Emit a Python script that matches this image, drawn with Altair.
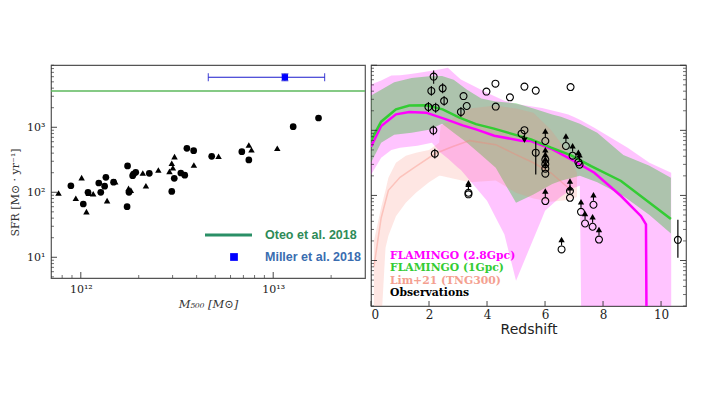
import altair as alt
import pandas as pd

# ---------------- Left panel: SFR vs M500 ----------------
tri_mass = [7.66e11, 1.01e12, 9.42e11, 1.07e12, 1.10e12, 1.16e12, 1.37e12, 1.51e12, 1.77e12, 1.82e12,
            2.10e12, 2.18e12, 2.53e12, 2.89e12, 2.97e12, 3.01e12, 3.07e12, 3.87e12, 5.2e12, 7.47e12,
            7.71e12, 1.05e13]
tri_sfr = [97.5, 168, 81, 50.4, 96.5, 95, 74.3, 146, 115, 108,
           198, 126, 220, 210, 279, 239, 353, 263, 358, 535,
           452, 475]
circ_mass = [8.88e11, 1.03e12, 1.09e12, 1.24e12, 1.27e12, 1.33e12, 1.35e12, 1.48e12, 1.75e12, 1.74e12,
             1.78e12, 1.88e12, 1.86e12, 1.93e12, 2.27e12, 2.97e12, 3.06e12, 3.31e12, 3.47e12, 3.56e12,
             3.86e12, 4.79e12, 6.87e12, 7.47e12, 1.27e13, 1.72e13]
circ_sfr = [126, 66, 100, 139, 100, 124, 170, 143, 254, 60,
            100, 191, 180, 203, 196, 103, 164, 198, 183, 475,
            437, 358, 421, 314, 1021, 1390]
oteo_sfr = [3610]
miller_mass = [1.15e13]
miller_sfr = [5880]
miller_mass_lo = [4.6e12]
miller_mass_hi = [1.85e13]
miller_sfr_lo = [5200]
miller_sfr_hi = [6650]

left_x_major = [1e12, 1e13]
left_x_minor = [8e11, 9e11, 2e12, 3e12, 4e12, 5e12, 6e12, 7e12, 8e12, 9e12, 2e13]
left_y_major = [10, 100, 1000]
left_y_minor = [5, 6, 7, 8, 9, 20, 30, 40, 50, 60, 70, 80, 90, 200, 300, 400, 500, 600, 700,
                800, 900, 2000, 3000, 4000, 5000, 6000, 7000, 8000, 9000]

# ---------------- Right panel: SFR vs redshift ----------------
pink_z = [0, 0.35, 0.7, 1.0, 1.3, 1.6, 2.1, 2.4, 2.65, 3.0, 3.1, 4.0, 4.6, 5.0, 5.9, 6.0, 6.5, 6.8, 7.0,
          7.2, 7.25, 7.7, 8.85, 9.6, 10.35]
pink_up = [5050, 5820, 6950, 7050, 7280, 7600, 8250, 8700, 9200, 6600, 6030, 3800, 2860, 2550, 2200, 2150,
           1900, 1760, 1600, 1450, 1420, 1100, 542, 318, 223]
pink_lo = [208, 380, 500, 542, 560, 582, 646, 454, 370, 267, 245, 83, 25, 4.9, 45, 58, 92, 115, 131,
           141, 1, 1, 1, 1, 1]

green_z = [0, 0.35, 0.8, 1.4, 2.0, 2.45, 2.85, 3.3, 3.8, 4.3, 5.0, 5.6, 6.25, 6.55, 7.2, 7.8, 8.7, 9.6, 10.34]
green_up = [3420, 4200, 5500, 6400, 6800, 6820, 6000, 4250, 3080, 2770, 2600, 2160, 1760, 1620, 1268, 922,
            420, 286, 187]
green_lo = [318, 646, 859, 922, 1025, 1268, 922, 650, 420, 267, 77, 103, 150, 168, 200, 160, 98, 50, 26]

salmon_z = [0.1, 0.35, 0.5, 0.6, 0.86, 1.2, 1.55, 2.0, 2.35, 2.4, 3.4, 4.3, 5.0, 5.6, 6.2, 6.8, 7.1]
salmon_up = [20, 65, 120, 187, 318, 408, 454, 500, 646, 1181, 2160, 2400, 2160, 1871, 1025, 454, 223]
salmon_lo = [1, 1, 15.6, 24, 48, 77, 110, 160, 200, 200, 160, 170, 110, 90, 80, 85, 95]

salmon_line_z = [0.1, 0.35, 0.6, 1.0, 1.5, 2.2, 2.8, 3.4, 4.3, 5.0, 5.6, 6.2, 6.8]
salmon_line_v = [8, 45, 120, 190, 270, 437, 560, 695, 603, 423, 318, 223, 131]

mag_z = [0, 0.35, 0.86, 1.32, 1.9, 2.59, 3.16, 3.62, 4.25, 5.17, 5.52, 6.21, 6.9, 7.7, 8.62, 9.31, 9.48, 9.5]
mag_v = [561, 1169, 1762, 1920, 1871, 1476, 1194, 1036, 828, 695, 687, 522, 358, 223, 98, 48, 36, 1]

grn_z = [0, 0.35, 0.86, 1.32, 1.9, 2.47, 3.05, 3.62, 4.24, 5.52, 6.21, 6.9, 7.59, 8.62, 10.34]
grn_v = [695, 1360, 2100, 2400, 2425, 2100, 1566, 1245, 1062, 727, 542, 412, 283, 167, 43.3]

# observations: circles with small error bars
phi_z = [2.16, 2.08, 2.47, 2.52, 1.98, 2.23, 2.15, 2.20, 3.10]
phi_v = [6700, 4040, 4430, 2830, 2290, 2230, 1000, 438, 1920]
phi_lo = [5220, 3400, 3720, 2380, 1920, 1870, 840, 368, 1610]
phi_hi = [8300, 4800, 5280, 3370, 2730, 2660, 1190, 522, 2290]
# plain circles
plain_z = [3.19, 3.30, 3.98, 4.29, 4.30, 4.79, 5.29, 5.68, 6.88, 5.19]
plain_v = [3360, 2370, 3940, 5220, 2320, 3220, 4700, 4080, 4630, 890]
# upper limit
upper_z = [5.29]
upper_v = [1007]
# big error bars
big_z = [5.68, 10.58]
big_v = [454, 20.8]
big_lo = [210, 11.0]
big_hi = [687, 42.3]
# lower limits
lim_z = [3.36, 3.36, 6.01, 6.01, 6.01, 6.01, 6.01, 6.01, 6.72, 6.95, 7.15, 7.19, 6.86, 6.86, 7.24,
         7.67, 7.38, 7.64, 7.86, 6.57]
lim_v = [110, 104, 687, 354, 302, 258, 216, 82, 575, 408, 324, 297, 117, 92, 56,
         72, 37, 33, 21, 14.8]

right_x_major = [0, 2, 4, 6, 8, 10]
right_y_major = [10, 100, 1000, 10000]
right_y_minor = [2, 3, 4, 5, 6, 7, 8, 9, 20, 30, 40, 50, 60, 70, 80, 90, 200, 300, 400, 500,
                 600, 700, 800, 900, 2000, 3000, 4000, 5000, 6000, 7000, 8000, 9000]

legend_labels = ["FLAMINGO (2.8Gpc)", "FLAMINGO (1Gpc)", "Lim+21 (TNG300)", "Observations"]
legend_colors = ["#ff00ff", "#33cc33", "#f4a090", "#000000"]

SERIF = "DejaVu Serif"
TICK = "#333333"

# ================= build left =================
LW, LH = 314, 213
lxs = alt.Scale(type="log", domain=[7.0e11, 3.0e13], nice=False)
lys = alt.Scale(type="log", domain=[4.8, 9080], nice=False)

lx_axis = alt.Axis(values=left_x_major, labelExpr="datum.value == 1e12 ? '10¹²' : '10¹³'",
                   ticks=False, domain=False, grid=False,
                   labelFont=SERIF, labelFontSize=11, labelColor="#222", labelPadding=5,
                   title="M₅₀₀ [M⊙]", titleFont=SERIF, titleFontStyle="italic", titleFontWeight="normal",
                   titleFontSize=11.5, titleColor="#333", titlePadding=4)
ly_axis = alt.Axis(values=left_y_major,
                   labelExpr="datum.value == 10 ? '10¹' : datum.value == 100 ? '10²' : '10³'",
                   ticks=False, domain=False, grid=False,
                   labelFont=SERIF, labelFontSize=11, labelColor="#222", labelPadding=6,
                   title="SFR [M⊙ · yr⁻¹]", titleFont=SERIF, titleFontWeight="normal", titleFontSize=11,
                   titleColor="#333", titlePadding=6, titleY=127)


def LX(f):
    return alt.X(f, scale=lxs, axis=lx_axis)


def LY(f):
    return alt.Y(f, scale=lys, axis=ly_axis)


tri_df = pd.DataFrame({"mass": tri_mass, "sfr": tri_sfr})
circ_df = pd.DataFrame({"mass": circ_mass, "sfr": circ_sfr})
oteo_df = pd.DataFrame({"sfr": oteo_sfr})
miller_df = pd.DataFrame({"mass": miller_mass, "sfr": miller_sfr, "mlo": miller_mass_lo, "mhi": miller_mass_hi,
                          "slo": miller_sfr_lo, "shi": miller_sfr_hi})

BLUE = "#1a1acc"
l_tri = alt.Chart(tri_df).mark_point(shape="triangle-up", filled=True, color="black", size=42, opacity=1).encode(
    x=LX("mass:Q"), y=LY("sfr:Q"))
l_circ = alt.Chart(circ_df).mark_circle(color="black", size=45, opacity=1).encode(x=LX("mass:Q"), y=LY("sfr:Q"))
l_oteo = alt.Chart(oteo_df).mark_rule(color="#5cb85c", strokeWidth=1.6).encode(y=LY("sfr:Q"))
l_mx = alt.Chart(miller_df).mark_rule(color=BLUE, strokeWidth=1.2).encode(x=LX("mlo:Q"), x2="mhi:Q", y=LY("sfr:Q"))
l_my = alt.Chart(miller_df).mark_rule(color=BLUE, strokeWidth=1.2).encode(x=LX("mass:Q"), y=LY("slo:Q"), y2="shi:Q")
l_cap1 = alt.Chart(miller_df).mark_tick(color=BLUE, orient="vertical", size=8, thickness=1.2).encode(
    x=LX("mlo:Q"), y=LY("sfr:Q"))
l_cap2 = alt.Chart(miller_df).mark_tick(color=BLUE, orient="vertical", size=8, thickness=1.2).encode(
    x=LX("mhi:Q"), y=LY("sfr:Q"))
l_capy = alt.Chart(miller_df).mark_tick(color=BLUE, orient="horizontal", size=7, thickness=1.2).encode(
    x=LX("mass:Q"), y=LY("shi:Q"))
l_capy2 = alt.Chart(miller_df).mark_tick(color=BLUE, orient="horizontal", size=7, thickness=1.2).encode(
    x=LX("mass:Q"), y=LY("slo:Q"))
l_msq = alt.Chart(miller_df).mark_square(color="#0000ff", size=40, opacity=1).encode(x=LX("mass:Q"), y=LY("sfr:Q"))

# inward ticks (matplotlib style)
l_xt_maj = alt.Chart(pd.DataFrame({"mass": left_x_major})).mark_rule(color=TICK, strokeWidth=0.9).encode(
    x=LX("mass:Q"), y=alt.value(LH), y2=alt.value(LH - 6))
l_xt_min = alt.Chart(pd.DataFrame({"mass": left_x_minor})).mark_rule(color=TICK, strokeWidth=0.7).encode(
    x=LX("mass:Q"), y=alt.value(LH), y2=alt.value(LH - 3))
l_yt_maj = alt.Chart(pd.DataFrame({"sfr": left_y_major})).mark_rule(color=TICK, strokeWidth=0.9).encode(
    y=LY("sfr:Q"), x=alt.value(0), x2=alt.value(6))
l_yt_min = alt.Chart(pd.DataFrame({"sfr": left_y_minor})).mark_rule(color=TICK, strokeWidth=0.7).encode(
    y=LY("sfr:Q"), x=alt.value(0), x2=alt.value(3))

leg_df = pd.DataFrame({"t": ["Oteo et al. 2018"]})
l_leg_line = alt.Chart(leg_df).mark_rule(color="#2a8f66", strokeWidth=3).encode(
    x=alt.value(154), x2=alt.value(201), y=alt.value(170))
l_leg_t1 = alt.Chart(leg_df).mark_text(align="left", baseline="middle", font="Liberation Sans", fontWeight="bold",
                                       fontSize=12.5, color="#2e8b57").encode(
    x=alt.value(214), y=alt.value(170), text="t:N")
leg2_df = pd.DataFrame({"t": ["Miller et al. 2018"]})
l_leg_sq = alt.Chart(leg2_df).mark_square(color="#0000ff", size=60, opacity=1).encode(
    x=alt.value(183), y=alt.value(192))
l_leg_t2 = alt.Chart(leg2_df).mark_text(align="left", baseline="middle", font="Liberation Sans", fontWeight="bold",
                                        fontSize=12.5, color="#3a6db0").encode(
    x=alt.value(214), y=alt.value(192), text="t:N")

left = alt.layer(l_tri, l_circ, l_oteo, l_mx, l_my, l_cap1, l_cap2, l_capy, l_capy2, l_msq,
                 l_xt_maj, l_xt_min, l_yt_maj, l_yt_min,
                 l_leg_line, l_leg_t1, l_leg_sq, l_leg_t2).properties(
    width=LW, height=LH, title=alt.TitleParams(" ", fontSize=2, offset=0))

# ================= build right =================
RW, RH = 315, 241
rxs = alt.Scale(domain=[0, 10.86], nice=False, zero=False)
rys = alt.Scale(type="log", domain=[2.0, 10100], nice=False)

rx_axis = alt.Axis(values=right_x_major, format="d", ticks=False, domain=False, grid=False,
                   labelFont=SERIF, labelFontSize=12, labelColor="#222", labelPadding=3,
                   title="Redshift", titleFont="DejaVu Sans", titleFontSize=14, titleFontWeight="normal",
                   titleColor="#222", titlePadding=2)
ry_axis = alt.Axis(values=right_y_major, labels=False, ticks=False, domain=False, grid=False, title=None)


def RX(f):
    return alt.X(f, scale=rxs, axis=rx_axis)


def RY(f):
    return alt.Y(f, scale=rys, axis=ry_axis)


pink_df = pd.DataFrame({"z": pink_z, "up": pink_up, "lo": pink_lo})
green_df = pd.DataFrame({"z": green_z, "up": green_up, "lo": green_lo})
salmon_df = pd.DataFrame({"z": salmon_z, "up": salmon_up, "lo": salmon_lo})
sline_df = pd.DataFrame({"z": salmon_line_z, "v": salmon_line_v})
mag_df = pd.DataFrame({"z": mag_z, "v": mag_v})
grn_df = pd.DataFrame({"z": grn_z, "v": grn_v})

r_pink = alt.Chart(pink_df).mark_area(color="#ff00ff", opacity=0.23, clip=True).encode(
    x=RX("z:Q"), y=RY("up:Q"), y2="lo:Q")
r_green = alt.Chart(green_df).mark_area(color="#00c000", opacity=0.32, clip=True).encode(
    x=RX("z:Q"), y=RY("up:Q"), y2="lo:Q")
r_salmon = alt.Chart(salmon_df).mark_area(color="#fa8072", opacity=0.2, clip=True).encode(
    x=RX("z:Q"), y=RY("up:Q"), y2="lo:Q")
r_sline = alt.Chart(sline_df).mark_line(color="#fa8072", opacity=0.35, strokeWidth=1.5, clip=True).encode(
    x=RX("z:Q"), y=RY("v:Q"))
r_mag = alt.Chart(mag_df).mark_line(color="#ff00ff", strokeWidth=2.5, clip=True).encode(x=RX("z:Q"), y=RY("v:Q"))
r_grn = alt.Chart(grn_df).mark_line(color="#33cc33", strokeWidth=2.5, clip=True).encode(x=RX("z:Q"), y=RY("v:Q"))

phi_df = pd.DataFrame({"z": phi_z, "v": phi_v, "lo": phi_lo, "hi": phi_hi})
plain_df = pd.DataFrame({"z": plain_z, "v": plain_v})
upper_df = pd.DataFrame({"z": upper_z, "v": upper_v})
big_df = pd.DataFrame({"z": big_z, "v": big_v, "lo": big_lo, "hi": big_hi})
lim_df = pd.DataFrame({"z": lim_z, "v": lim_v})


def circles(df):
    return alt.Chart(df).mark_point(shape="circle", filled=False, color="black", size=48, strokeWidth=1.1,
                                    opacity=1).encode(x=RX("z:Q"), y=RY("v:Q"))


r_phi_bar = alt.Chart(phi_df).mark_rule(color="black", strokeWidth=1.1).encode(
    x=RX("z:Q"), y=RY("lo:Q"), y2="hi:Q")
r_big_bar = alt.Chart(big_df).mark_rule(color="black", strokeWidth=1.2).encode(
    x=RX("z:Q"), y=RY("lo:Q"), y2="hi:Q")
r_lim_stem = alt.Chart(lim_df).mark_rule(color="black", strokeWidth=1.1, yOffset=-4, y2Offset=-8).encode(
    x=RX("z:Q"), y=RY("v:Q"), y2="v:Q")
r_lim_tri = alt.Chart(lim_df).mark_point(shape="triangle-up", filled=True, color="black", size=40, opacity=1,
                                         yOffset=-10).encode(x=RX("z:Q"), y=RY("v:Q"))
r_up_stem = alt.Chart(upper_df).mark_rule(color="black", strokeWidth=1.1, yOffset=4, y2Offset=8).encode(
    x=RX("z:Q"), y=RY("v:Q"), y2="v:Q")
r_up_tri = alt.Chart(upper_df).mark_point(shape="triangle-down", filled=True, color="black", size=40, opacity=1,
                                          yOffset=10).encode(x=RX("z:Q"), y=RY("v:Q"))

# inward ticks
r_yt = []
for side_x, side_x2_maj, side_x2_min in [(0, 6, 3), (RW, RW - 6, RW - 3)]:
    r_yt.append(alt.Chart(pd.DataFrame({"v": right_y_major})).mark_rule(color=TICK, strokeWidth=0.9).encode(
        y=RY("v:Q"), x=alt.value(side_x), x2=alt.value(side_x2_maj)))
    r_yt.append(alt.Chart(pd.DataFrame({"v": right_y_minor})).mark_rule(color=TICK, strokeWidth=0.7).encode(
        y=RY("v:Q"), x=alt.value(side_x), x2=alt.value(side_x2_min)))
r_xt = alt.Chart(pd.DataFrame({"z": right_x_major})).mark_rule(color=TICK, strokeWidth=0.9).encode(
    x=RX("z:Q"), y=alt.value(RH), y2=alt.value(RH - 5))

legend_layers = []
for i, (lab, col) in enumerate(zip(legend_labels, legend_colors)):
    d = pd.DataFrame({"t": [lab]})
    legend_layers.append(
        alt.Chart(d).mark_text(align="left", baseline="middle", font=SERIF, fontWeight="bold", fontSize=10.8,
                               color=col).encode(x=alt.value(19), y=alt.value(191 + 12.4 * i), text="t:N"))

right = alt.layer(r_pink, r_green, r_salmon, r_sline, r_mag, r_grn,
                  r_phi_bar, r_big_bar, circles(phi_df), circles(plain_df), circles(upper_df), circles(big_df),
                  circles(lim_df), r_lim_stem, r_lim_tri, r_up_stem, r_up_tri,
                  *r_yt, r_xt, *legend_layers).properties(width=RW, height=RH)

chart = alt.hconcat(left, right, spacing=2).properties(
    padding={"left": 0, "top": 54, "right": 0, "bottom": 0},
    background="white"
).configure_view(stroke="#555", strokeWidth=1.2)

chart.save("out.html", embed_options={"renderer": "svg", "actions": False})
